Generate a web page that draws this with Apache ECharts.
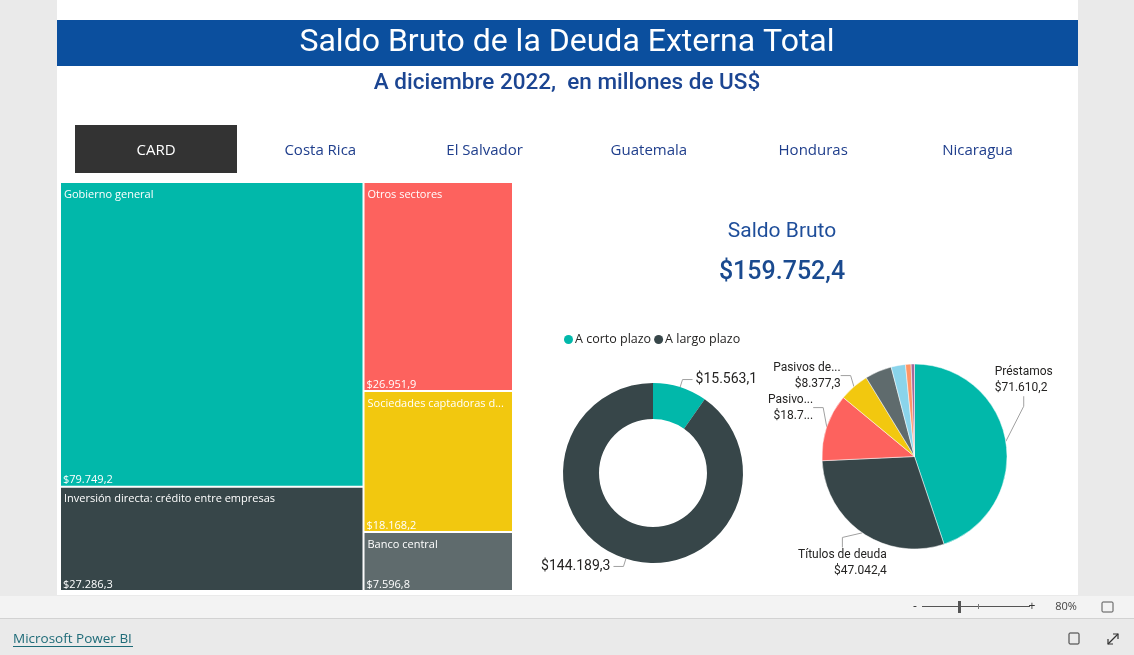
<!DOCTYPE html>
<html><head><meta charset="utf-8">
<script src="https://cdn.jsdelivr.net/npm/echarts@6/dist/echarts.min.js"></script>
<style>html,body{margin:0;padding:0;background:#eaeaea;}#c{width:1134px;height:655px;background:linear-gradient(to right,#eaeaea 57px,#fff 57px,#fff 1078px,#eaeaea 1078px);background-size:100% 595px;background-repeat:no-repeat;}</style>
</head><body><div id="c"></div>
<script>
// ---- data ----
const tabs = ['CARD', 'Costa Rica', 'El Salvador', 'Guatemala', 'Honduras', 'Nicaragua'];
const treeNames = ['Gobierno general', 'Inversión directa: crédito entre empresas', 'Otros sectores', 'Sociedades captadoras de depósitos, excepto el banco central', 'Banco central'];
const treeValues = [79749.2, 27286.3, 26951.9, 18168.2, 7596.8];
const treeGroups = [0, 0, 1, 1, 1];
const termNames = ['A corto plazo', 'A largo plazo'];
const termValues = [15563.1, 144189.3];
const instrNames = ['Préstamos', 'Títulos de deuda', 'Pasivos de deuda entre empresas emparentadas', 'Pasivos de deuda frente a inversionistas directos', 'Créditos comerciales y anticipos', 'Moneda y depósitos', 'Otros pasivos de deuda', 'Derechos especiales de giro'];
const instrValues = [71610.2, 47042.4, 18745.0, 8377.3, 7497.5, 4000.0, 1550.0, 930.0];

const treeColors = ['#01B8AA', '#374649', '#FD625E', '#F2C80F', '#5F6B6D'];
const termColors = ['#01B8AA', '#374649'];
const instrColors = ['#01B8AA', '#374649', '#FD625E', '#F2C80F', '#5F6B6D', '#8AD4EB', '#FE9666', '#A66999'];

function fmt(v) {
  if (typeof v !== 'number') return '';
  const s = v.toFixed(1).split('.');
  return '$' + s[0].replace(/\B(?=(\d{3})+(?!\d))/g, '.') + ',' + s[1];
}
const total = termValues.reduce((a, b) => a + b, 0);

function buildTree(withColor) {
  const groups = [];
  treeNames.forEach((n, i) => {
    const g = treeGroups[i];
    if (!groups[g]) groups[g] = { name: 'g' + g, children: [] };
    const leaf = { name: n, value: treeValues[i] };
    if (withColor) leaf.itemStyle = { color: treeColors[i], borderColor: '#ececec', borderWidth: 1 };
    else leaf.itemStyle = { color: 'rgba(0,0,0,0)', borderWidth: 0 };
    groups[g].children.push(leaf);
  });
  groups.forEach(g => g.value = g.children.reduce((a, c) => a + c.value, 0));
  return groups;
}

const FONT = '"Open Sans", "Noto Sans", sans-serif';
const NUMFONT = 'Roboto, "Noto Sans", sans-serif';
const treeLevels = [
  { itemStyle: { borderWidth: 0, gapWidth: 0 } },
  { itemStyle: { borderWidth: 0, gapWidth: 0 }, upperLabel: { show: false } },
  {}
];

const graphic = [
  { type: 'rect', shape: { x: 0, y: 596, width: 1134, height: 22 }, style: { fill: '#f3f3f3' } },
  { type: 'rect', shape: { x: 0, y: 618, width: 1134, height: 1 }, style: { fill: '#d2d2d2' } },
  { type: 'rect', shape: { x: 57, y: 20, width: 1021, height: 46 }, style: { fill: '#0B4F9E' } },
  { type: 'text', x: 567, y: 43, style: { text: 'Saldo Bruto de la Deuda Externa Total', fill: '#ffffff', font: '32px ' + NUMFONT, align: 'center', verticalAlign: 'middle' } },
  { type: 'text', x: 567, y: 83, style: { text: 'A diciembre 2022,  en millones de US$', fill: '#1B4592', font: '500 22.5px ' + NUMFONT, align: 'center', verticalAlign: 'middle' } },
  { type: 'rect', shape: { x: 75, y: 125, width: 162, height: 48 }, style: { fill: '#333333' } },
  { type: 'text', x: 782, y: 232, style: { text: 'Saldo Bruto', fill: '#1F4E9A', font: '21px ' + NUMFONT, align: 'center', verticalAlign: 'middle' } },
  { type: 'text', x: 782, y: 273, style: { text: fmt(total), fill: '#1A4A8F', font: '500 25px ' + NUMFONT, align: 'center', verticalAlign: 'middle' } },
  // zoom bar
  { type: 'text', x: 915, y: 607, style: { text: '-', fill: '#333', font: '12px ' + FONT, align: 'center', verticalAlign: 'middle' } },
  { type: 'rect', shape: { x: 922, y: 606, width: 108, height: 1 }, style: { fill: '#555' } },
  { type: 'rect', shape: { x: 958, y: 601, width: 3, height: 12 }, style: { fill: '#555' } },
  { type: 'rect', shape: { x: 978, y: 604, width: 1, height: 5 }, style: { fill: '#777' } },
  { type: 'text', x: 1032, y: 607, style: { text: '+', fill: '#333', font: '12px ' + FONT, align: 'center', verticalAlign: 'middle' } },
  { type: 'text', x: 1066, y: 607, style: { text: '80%', fill: '#444', font: '11px ' + FONT, align: 'center', verticalAlign: 'middle' } },
  { type: 'rect', shape: { x: 1102, y: 602, width: 11, height: 10, r: 1 }, style: { fill: 'none', stroke: '#555', lineWidth: 1 } },
  { type: 'text', x: 13, y: 639, style: { text: 'Microsoft Power BI', fill: '#1E6B78', font: '13.5px ' + FONT, align: 'left', verticalAlign: 'middle' } },
  { type: 'rect', shape: { x: 13, y: 646, width: 120, height: 1 }, style: { fill: '#1E6B78' } },
  { type: 'rect', shape: { x: 1069, y: 633, width: 10, height: 11, r: 1 }, style: { fill: 'none', stroke: '#333', lineWidth: 1 } },
  { type: 'polyline', shape: { points: [[1108, 644], [1118, 634]] }, style: { stroke: '#333', lineWidth: 1.2 } },
  { type: 'polyline', shape: { points: [[1113, 634], [1118, 634], [1118, 639]] }, style: { stroke: '#333', lineWidth: 1.2, fill: 'none' } },
  { type: 'polyline', shape: { points: [[1108, 639], [1108, 644], [1113, 644]] }, style: { stroke: '#333', lineWidth: 1.2, fill: 'none' } }
];
tabs.forEach((t, i) => {
  graphic.push({ type: 'text', x: 156 + i * 164.3, y: 151, style: { text: t, fill: i === 0 ? '#ffffff' : '#1F3E8C', font: '15px ' + FONT, align: 'center', verticalAlign: 'middle' } });
});

const instrData = instrNames.map((n, i) => {
  const d = { name: n, value: instrValues[i], itemStyle: { color: instrColors[i] } };
  if (i > 3) { d.label = { show: false }; d.labelLine = { show: false }; }
  if (i === 2) d.label = { width: 47, overflow: 'truncate', ellipsis: '...' };
  if (i === 3) d.label = { width: 72, overflow: 'truncate', ellipsis: '...' };
  return d;
});
// nudges of the pie's data labels toward where the reference places them
const pieLabelShift = { 0: [-32, -60], 1: [42, 24], 2: [7, -17], 3: [5, -5] };

const option = {
  animation: false,
  graphic: graphic,
  legend: {
    data: termNames, left: 559, top: 328, icon: 'circle', itemWidth: 9, itemHeight: 9, itemGap: 3,
    textStyle: { fontSize: 12.5, color: '#252423', fontFamily: FONT, padding: [0, 0, 0, -3] }
  },
  series: [
    {
      type: 'treemap', left: 60, top: 182, width: 453, height: 409, squareRatio: 1, roam: false, nodeClick: false, breadcrumb: { show: false },
      levels: treeLevels, data: buildTree(true), silent: true,
      label: { show: true, position: 'insideTopLeft', formatter: '{b}', color: '#ffffff', fontSize: 11, fontFamily: FONT, padding: [6, 3, 0, 3], overflow: 'truncate', ellipsis: '...' }
    },
    {
      type: 'treemap', left: 60, top: 182, width: 453, height: 409, squareRatio: 1, roam: false, nodeClick: false, breadcrumb: { show: false },
      levels: treeLevels, data: buildTree(false), silent: true,
      label: { show: true, position: 'insideBottomLeft', formatter: p => fmt(p.value), color: '#ffffff', fontSize: 11, fontFamily: FONT, padding: [0, 3, 1, 3] }
    },
    {
      type: 'pie', center: [653, 473], radius: [54, 90], startAngle: 90, silent: true,
      data: termNames.map((n, i) => ({ name: n, value: termValues[i], itemStyle: { color: termColors[i] } })),
      label: { formatter: p => fmt(p.value), fontSize: 14, color: '#252423', fontFamily: NUMFONT, distanceToLabelLine: 3 },
      labelLine: { length: 8, length2: 10, lineStyle: { color: '#a0a0a0', width: 1 } }
    },
    {
      type: 'pie', center: [914.5, 456.5], radius: [0, 92.5], startAngle: 90, silent: true,
      itemStyle: { borderColor: '#ffffff', borderWidth: 0.5 },
      data: instrData,
      label: { formatter: p => p.name + '\n' + fmt(p.value), fontSize: 12, lineHeight: 16, color: '#252423', fontFamily: NUMFONT, distanceToLabelLine: 3 },
      labelLine: { length: 8, length2: 10, lineStyle: { color: '#a0a0a0', width: 1 } },
      labelLayout: function (p) {
        const s = pieLabelShift[p.dataIndex];
        if (!s) return {};
        const r = p.labelRect;
        const ax = p.align === 'right' ? r.x + r.width : (p.align === 'center' ? r.x + r.width / 2 : r.x);
        return { x: ax + s[0], y: r.y + r.height / 2 + s[1] };
      }
    }
  ]
};
const chart = echarts.init(document.getElementById('c'), null, { renderer: 'canvas' });
chart.setOption(option);
</script></body></html>
